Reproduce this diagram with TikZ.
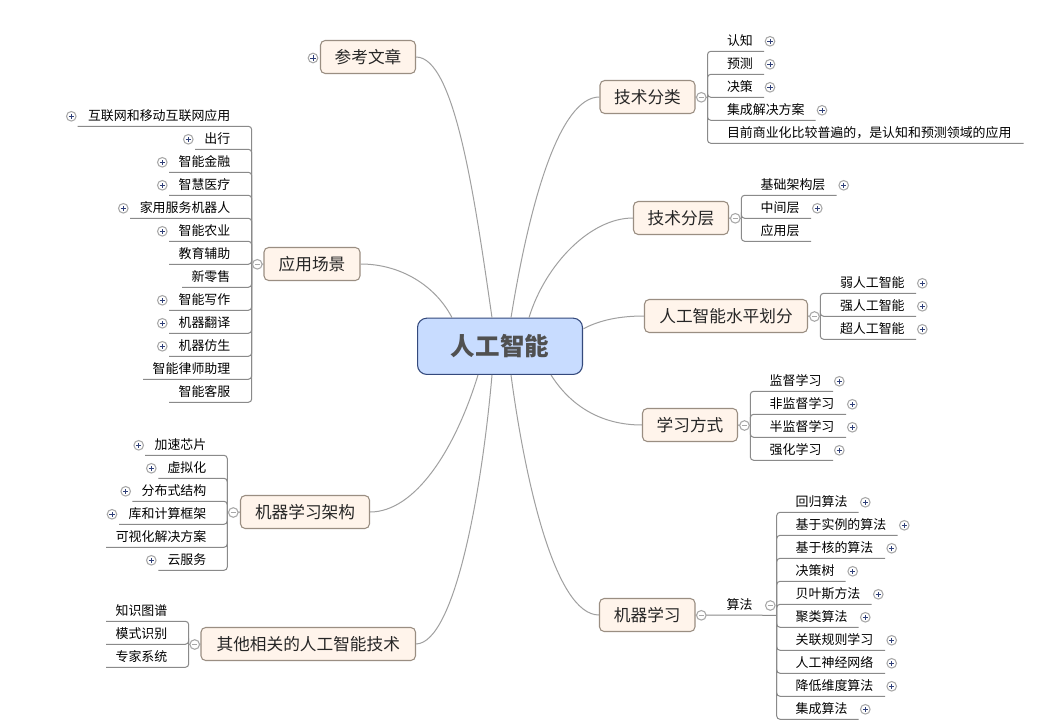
\documentclass[tikz,border=0pt]{standalone}
\usepackage{fontspec}
\setmainfont{Noto Sans CJK SC}
\definecolor{curvec}{HTML}{A0A0A0}
\definecolor{linec}{HTML}{8A8A8A}
\definecolor{topicfill}{HTML}{FFF4EB}
\definecolor{topicdraw}{HTML}{9A8E82}
\definecolor{rootfill}{HTML}{C8DCFF}
\definecolor{rootdraw}{HTML}{34497C}
\definecolor{rootinner}{HTML}{505050}
\definecolor{iconc}{HTML}{A8A8A8}
\definecolor{plusc}{HTML}{2F3F78}
\tikzset{
  x=0.75pt,y=-0.75pt,
  leaf/.style={inner sep=0pt,outer sep=0pt,font=\fontsize{9.7pt}{11pt}\selectfont,text=black},
  topic/.style={rectangle,rounded corners=3.5pt,draw=topicdraw,fill=topicfill,line width=0.8pt,inner sep=0pt,
     font=\fontsize{12.5pt}{14pt}\selectfont,text=black!85},
  rootnode/.style={rectangle,rounded corners=7pt,draw=rootdraw,fill=rootfill,line width=0.8pt,inner sep=0pt,
     font=\fontsize{18.4pt}{20pt}\selectfont\bfseries,text=rootinner},
  curve/.style={draw=curvec,line width=0.75pt},
  branch/.style={draw=linec,line width=0.75pt,rounded corners=2.5pt},
  plusicon/.style={circle,draw=iconc,fill=white,line width=0.8pt,minimum size=7.2pt,inner sep=0pt,
     path picture={\draw[plusc,line width=0.6pt] (path picture bounding box.center)+(-2pt,0)--+(2pt,0)
        (path picture bounding box.center)+(0,-2pt)--+(0,2pt);}},
  minusicon/.style={circle,draw=iconc,fill=white,line width=0.8pt,minimum size=7.2pt,inner sep=0pt,
     path picture={\draw[iconc,line width=0.6pt] (path picture bounding box.center)+(-2pt,0)--+(2pt,0);}},
}
% topic box: name, x1, y1, x2, y2, text
\newcommand{\topicbox}[6]{\node[topic,minimum width=#4*0.75pt-#2*0.75pt,minimum height=#5*0.75pt-#3*0.75pt] (#1) at ({(#2+#4)/2},{(#3+#5)/2}) {#6};}
% right leaf: hub, name, text x, text, line y, line end x, plus x (empty for none)
\newcommand{\rleaf}[7]{%
  \coordinate (#2e) at (#6,#5);
  \draw[branch] (#1) |- (#2e);
  \node[leaf,anchor=west] (#2) at (#3,#5-11) {#4};
  \ifx\relax#7\relax\else\node[plusicon] (#2p) at (#7,#5-10) {};\fi}
% left leaf: the same, text right-aligned at text x
\newcommand{\lleaf}[7]{%
  \coordinate (#2e) at (#6,#5);
  \draw[branch] (#1) |- (#2e);
  \node[leaf,anchor=east] (#2) at (#3,#5-11) {#4};
  \ifx\relax#7\relax\else\node[plusicon] (#2p) at (#7,#5-10) {};\fi}
\begin{document}
\begin{tikzpicture}
\useasboundingbox[fill=white] (0,0) rectangle (1051,724);
% root and topics
\node[rootnode,minimum width=123.7pt,minimum height=42.2pt] (root) at (500,346.3) {人工智能};
\topicbox{t1}{320.5}{40.5}{415.5}{73.5}{参考文章}
\topicbox{t2}{600}{80.5}{695}{113.5}{技术分类}
\topicbox{t3}{633.5}{201.5}{728.5}{234.5}{技术分层}
\topicbox{t4}{644.5}{299.5}{807.5}{332.5}{人工智能水平划分}
\topicbox{t5}{642.5}{408.5}{737.5}{441.5}{学习方式}
\topicbox{t6}{599.5}{598.5}{695}{631.5}{机器学习}
\topicbox{t7}{201}{627.5}{415.5}{660.5}{其他相关的人工智能技术}
\topicbox{t8}{240.5}{495.5}{369.5}{528.5}{机器学习架构}
\topicbox{t9}{264}{247.5}{360}{280.5}{应用场景}
% curves from root to topics
\draw[curve] (t1.east) .. controls (455,57) and (475,200) .. (root.north -| 492,0);
\draw[curve] (t2.west) .. controls (560,97) and (530,200) .. (root.north -| 511,0);
\draw[curve] (t3.west) .. controls (590,218) and (545,265) .. (root.north -| 529,0);
\draw[curve] (t4.west) .. controls (620,316) and (600,320) .. (583.5,328.7);
\draw[curve] (t5.west) .. controls (600,425) and (570,405) .. (root.south -| 551,0);
\draw[curve] (t6.west) .. controls (555,615) and (525,480) .. (root.south -| 511,0);
\draw[curve] (t7.east) .. controls (455,643) and (482,490) .. (root.south -| 492,0);
\draw[curve] (t8.east) .. controls (415,512) and (455,450) .. (root.south -| 478,0);
\draw[curve] (t9.east) .. controls (400,264) and (435,285) .. (root.north -| 452,0);
\node[plusicon] (t1p) at (313,58) {};
% technology classes
\coordinate (h2) at (707.5,97.3);
\draw[branch] (t2.east) -- (h2);
\rleaf{h2}{a1}{727}{认知}{51.3}{764}{770}
\rleaf{h2}{a2}{727}{预测}{74.3}{764}{770}
\rleaf{h2}{a3}{727}{决策}{97.3}{764}{770}
\rleaf{h2}{a4}{727}{集成解决方案}{120.3}{815.7}{822}
\rleaf{h2}{a5}{727}{目前商业化比较普遍的，是认知和预测领域的应用}{143.3}{1023.7}{}
\node[minusicon] (m2) at (701.3,97.3) {};
% technology layers
\coordinate (h3) at (741.3,218.3);
\draw[branch] (t3.east) -- (h3);
\rleaf{h3}{b1}{760.7}{基础架构层}{195.3}{836.7}{843.7}
\rleaf{h3}{b2}{760.7}{中间层}{218.3}{811}{817.3}
\rleaf{h3}{b3}{760.7}{应用层}{241.3}{811}{}
\node[minusicon] (m3) at (735.3,218.3) {};
% levels
\coordinate (h4) at (820.3,316.3);
\draw[branch] (t4.east) -- (h4);
\rleaf{h4}{c1}{840}{弱人工智能}{293.3}{916}{922.3}
\rleaf{h4}{c2}{840}{强人工智能}{316.3}{916}{922.3}
\rleaf{h4}{c3}{840}{超人工智能}{339.3}{916}{922.3}
\node[minusicon] (m4) at (814.5,316.5) {};
% learning styles
\coordinate (h5) at (750.3,425.5);
\draw[branch] (t5.east) -- (h5);
\rleaf{h5}{d1}{769.7}{监督学习}{391.3}{833}{839.3}
\rleaf{h5}{d2}{769.7}{非监督学习}{414.3}{846}{852.3}
\rleaf{h5}{d3}{769.7}{半监督学习}{437.3}{846}{852.3}
\rleaf{h5}{d4}{769.7}{强化学习}{460.3}{833}{839.3}
\node[minusicon] (m5) at (744.5,425.5) {};
% machine learning
\coordinate (h6) at (776.7,615.3);
\draw[branch] (t6.east) -- (h6);
\node[leaf,anchor=west] (alg) at (726.7,604.3) {算法};
\node[minusicon] (m6) at (701.3,615.3) {};
\node[minusicon] (m6b) at (770.3,605.5) {};
\rleaf{h6}{e1}{795.7}{回归算法}{512.3}{858.7}{865.3}
\rleaf{h6}{e2}{795.7}{基于实例的算法}{535.3}{897.7}{904.3}
\rleaf{h6}{e3}{795.7}{基于核的算法}{558.3}{885}{891.7}
\rleaf{h6}{e4}{795.7}{决策树}{581.3}{845.7}{852.7}
\rleaf{h6}{e5}{795.7}{贝叶斯方法}{604.3}{871.7}{878.3}
\rleaf{h6}{e6}{795.7}{聚类算法}{627.3}{858.7}{865.3}
\rleaf{h6}{e7}{795.7}{关联规则学习}{650.3}{885}{891.7}
\rleaf{h6}{e8}{795.7}{人工神经网络}{673.3}{885}{891.7}
\rleaf{h6}{e9}{795.7}{降低维度算法}{696.3}{885}{891.7}
\rleaf{h6}{e10}{795.7}{集成算法}{719.3}{858.7}{865.3}
% applications
\coordinate (h9) at (251.7,264.3);
\draw[branch] (t9.west) -- (h9);
\lleaf{h9}{f1}{230.3}{互联网和移动互联网应用}{126.3}{77.7}{71.3}
\lleaf{h9}{f2}{230.3}{出行}{149.3}{195}{188.3}
\lleaf{h9}{f3}{230.3}{智能金融}{172.3}{169}{162.3}
\lleaf{h9}{f4}{230.3}{智慧医疗}{195.3}{169}{162.3}
\lleaf{h9}{f5}{230.3}{家用服务机器人}{218.3}{130}{123.3}
\lleaf{h9}{f6}{230.3}{智能农业}{241.3}{169}{162.3}
\lleaf{h9}{f7}{230.3}{教育辅助}{264.3}{169}{}
\lleaf{h9}{f8}{230.3}{新零售}{287.3}{182}{}
\lleaf{h9}{f9}{230.3}{智能写作}{310.3}{169}{162.3}
\lleaf{h9}{f10}{230.3}{机器翻译}{333.3}{169}{162.3}
\lleaf{h9}{f11}{230.3}{机器仿生}{356.3}{169}{162.3}
\lleaf{h9}{f12}{230.3}{智能律师助理}{379.3}{143}{}
\lleaf{h9}{f13}{230.3}{智能客服}{402.3}{169}{}
\node[minusicon] (m9) at (257.3,264.3) {};
% ML architecture
\coordinate (h8) at (227.3,512.3);
\draw[branch] (t8.west) -- (h8);
\lleaf{h8}{g1}{206.3}{加速芯片}{455.3}{145}{138.7}
\lleaf{h8}{g2}{206.3}{虚拟化}{478.3}{158.3}{151.3}
\lleaf{h8}{g3}{206.3}{分布式结构}{501.3}{132.3}{125.7}
\lleaf{h8}{g4}{206.3}{库和计算框架}{524.3}{119}{112}
\lleaf{h8}{g5}{206.3}{可视化解决方案}{547.3}{106}{}
\lleaf{h8}{g6}{206.3}{云服务}{570.3}{158.3}{151.3}
\node[minusicon] (m8) at (233.3,512.5) {};
% other AI technologies
\coordinate (h7) at (188.7,644.3);
\draw[branch] (t7.west) -- (h7);
\lleaf{h7}{k1}{167.3}{知识图谱}{621.3}{106}{}
\lleaf{h7}{k2}{167.3}{模式识别}{644.3}{106}{}
\lleaf{h7}{k3}{167.3}{专家系统}{667.3}{106}{}
\node[minusicon] (m7) at (194.7,644.5) {};
\end{tikzpicture}
\end{document}
